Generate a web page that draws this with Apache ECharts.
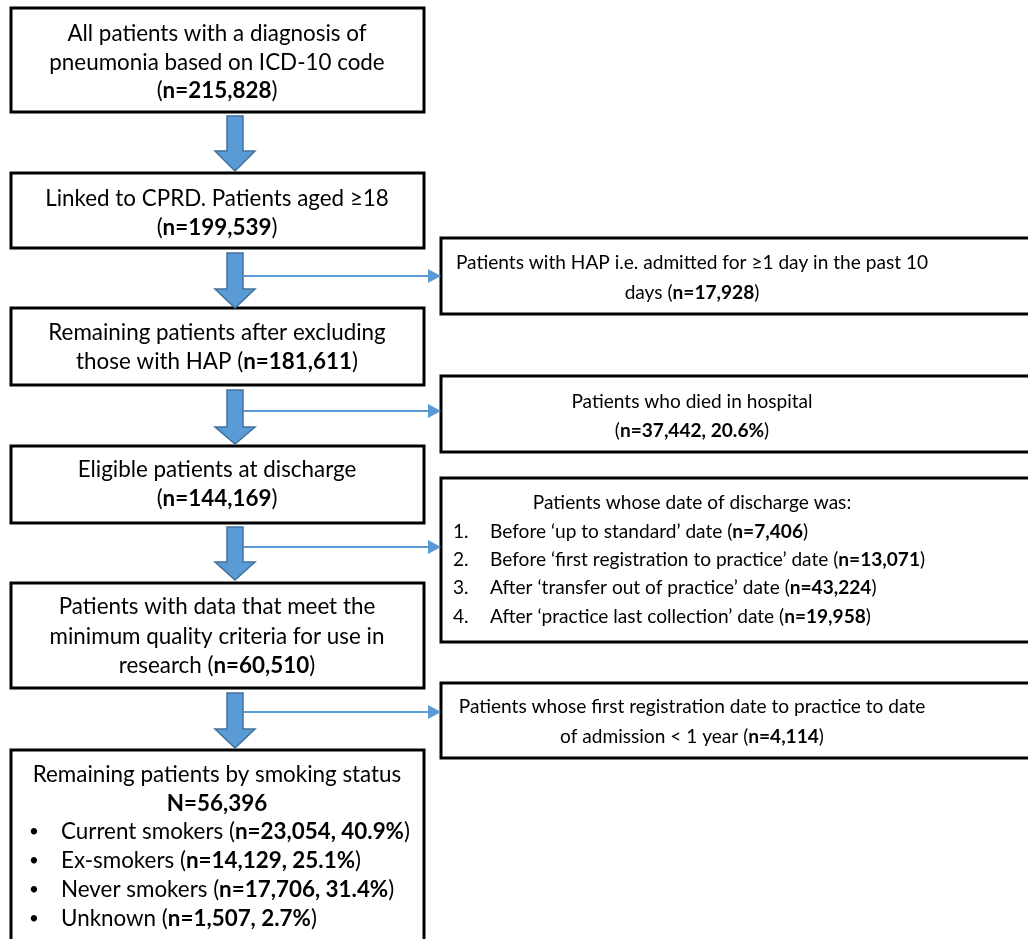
<!DOCTYPE html>
<html><head><meta charset="utf-8">
<script src="https://cdn.jsdelivr.net/npm/echarts@6/dist/echarts.min.js"></script>
<style>html,body{margin:0;padding:0;background:#fff;overflow:hidden}#chart{width:1028px;height:939px}</style>
</head><body><div id="chart"></div>
<script>
// ---------------- data ----------------
const stepLines = [
  ['All patients with a diagnosis of', 'pneumonia based on ICD-10 code', '(#)'],
  ['Linked to CPRD. Patients aged \u226518', '(#)'],
  ['Remaining patients after excluding', 'those with HAP (#)'],
  ['Eligible patients at discharge', '(#)'],
  ['Patients with data that meet the', 'minimum quality criteria for use in', 'research (#)']
];
const stepCounts = [215828, 199539, 181611, 144169, 60510];

const exclusionLines = [
  ['Patients with HAP i.e. admitted for \u22651 day in the past 10', 'days (#)'],
  ['Patients who died in hospital', '(#)'],
  ['Patients whose first registration date to practice to date', 'of admission < 1 year (#)']
];
const exclusionCounts = [17928, 37442, 4114];
const exclusionPct = [null, 20.6, null];

const dischargeHeader = 'Patients whose date of discharge was:';
const dischargeReasons = [
  'Before \u2018up to standard\u2019 date',
  'Before \u2018first registration to practice\u2019 date',
  'After \u2018transfer out of practice\u2019 date',
  'After \u2018practice last collection\u2019 date'
];
const dischargeCounts = [7406, 13071, 43224, 19958];

const smokingHeader = 'Remaining patients by smoking status';
const smokingTotal = 56396;
const smokingCategories = ['Current smokers', 'Ex-smokers', 'Never smokers', 'Unknown'];
const smokingCounts = [23054, 14129, 17706, 1507];
const smokingPct = [40.9, 25.1, 31.4, 2.7];

// ---------------- layout (positions in canvas units) ----------------
const mainX = [11, 424];
const mainY = [[8, 112], [173, 248], [308, 385], [446, 523], [583, 688], [750, 980]];
const sideX = [441, 1034];
const sideY = [[238, 314], [376, 452], [478, 642], [683, 758]];
const arrowCx = 235;
const arrowY = [[116, 151, 171], [253, 289, 308], [390, 427, 444], [527, 562, 580], [693, 729, 748]];
const connectorY = [276, 411, 547, 712];
const connectorX = [243, 441];
const mainCx = 217;
const sideCx = 692;
const mainLineY = [[34, 63, 91], [199, 228], [333, 362], [470, 499], [607, 637, 666]];
const sideLineY = [[263, 293], [402, 431], [707, 737]];
const dischargeLineY = [503, 532, 560, 588, 617];
const dischargeNumX = 453, dischargeTextX = 490;
const smokingLineY = [775, 804, 832, 861, 890, 919];
const bulletX = 29, bulletTextX = 61;

// ---------------- styles ----------------
const FONT = 'Lato, "Open Sans", sans-serif';
const FS_MAIN = 22.4;
const FS_SIDE = 19.1;
const FS_BULLET = 17;
const ARROW_FILL = '#5B9BD5';
const ARROW_STROKE = '#41719C';

const fmt = n => n.toLocaleString('en-US');
const boldCount = (count, pct) => '{b|n=' + fmt(count) + (pct != null ? ', ' + pct.toFixed(1) + '%' : '') + '}';

// Build text items
const textItems = [];
stepLines.forEach((lines, i) => {
  lines.forEach((ln, j) => {
    textItems.push({ x: mainCx, y: mainLineY[i][j], text: ln.replace('#', boldCount(stepCounts[i])), align: 'center', fs: FS_MAIN });
  });
});
exclusionLines.forEach((lines, i) => {
  lines.forEach((ln, j) => {
    textItems.push({ x: sideCx, y: sideLineY[i][j], text: ln.replace('#', boldCount(exclusionCounts[i], exclusionPct[i])), align: 'center', fs: FS_SIDE });
  });
});
textItems.push({ x: sideCx, y: dischargeLineY[0], text: dischargeHeader, align: 'center', fs: FS_SIDE });
dischargeReasons.forEach((r, i) => {
  textItems.push({ x: dischargeNumX, y: dischargeLineY[i + 1], text: (i + 1) + '.', align: 'left', fs: FS_SIDE });
  textItems.push({ x: dischargeTextX, y: dischargeLineY[i + 1], text: r + ' (' + boldCount(dischargeCounts[i]) + ')', align: 'left', fs: FS_SIDE });
});
textItems.push({ x: mainCx, y: smokingLineY[0], text: smokingHeader, align: 'center', fs: FS_MAIN });
textItems.push({ x: mainCx, y: smokingLineY[1], text: '{b|N=' + fmt(smokingTotal) + '}', align: 'center', fs: FS_MAIN });
smokingCategories.forEach((c, i) => {
  textItems.push({ x: bulletX, y: smokingLineY[i + 2], text: '\u2022', align: 'left', fs: FS_BULLET });
  textItems.push({ x: bulletTextX, y: smokingLineY[i + 2], text: c + ' (' + boldCount(smokingCounts[i], smokingPct[i]) + ')', align: 'left', fs: FS_MAIN });
});

const boxes = mainY.map(y => [mainX[0], y[0], mainX[1], y[1]])
  .concat(sideY.map(y => [sideX[0], y[0], sideX[1], y[1]]));

const chart = echarts.init(document.getElementById('chart'), null, { renderer: 'canvas' });
chart.setOption({
  backgroundColor: '#ffffff',
  animation: false,
  grid: { left: 0, right: 0, top: 0, bottom: 0 },
  xAxis: { type: 'value', min: 0, max: 1028, show: false },
  yAxis: { type: 'value', min: 0, max: 939, inverse: true, show: false },
  series: [
    {
      type: 'custom', clip: false, silent: true,
      data: boxes,
      renderItem: (params, api) => {
        const p1 = api.coord([api.value(0), api.value(1)]);
        const p2 = api.coord([api.value(2), api.value(3)]);
        return { type: 'rect', shape: { x: p1[0], y: p1[1], width: p2[0] - p1[0], height: p2[1] - p1[1] },
          style: { fill: '#fff', stroke: '#000', lineWidth: 3 } };
      }
    },
    {
      type: 'custom', clip: false, silent: true,
      data: arrowY.map(a => [arrowCx, a[0], a[1], a[2]]),
      renderItem: (params, api) => {
        const cx = api.value(0);
        const pts = [[cx - 8, api.value(1)], [cx + 8, api.value(1)], [cx + 8, api.value(2)], [cx + 20, api.value(2)],
          [cx, api.value(3)], [cx - 20, api.value(2)], [cx - 8, api.value(2)]].map(p => api.coord(p));
        return { type: 'polygon', shape: { points: pts }, style: { fill: ARROW_FILL, stroke: ARROW_STROKE, lineWidth: 1.5 } };
      }
    },
    {
      type: 'custom', clip: false, silent: true,
      data: connectorY.map(y => [connectorX[0], y, connectorX[1]]),
      renderItem: (params, api) => {
        const a = api.coord([api.value(0), api.value(1)]);
        const b = api.coord([api.value(2), api.value(1)]);
        return { type: 'group', children: [
          { type: 'line', shape: { x1: a[0], y1: a[1], x2: b[0] - 12, y2: b[1] }, style: { stroke: ARROW_FILL, lineWidth: 2 } },
          { type: 'polygon', shape: { points: [[b[0] - 13, b[1] - 7], [b[0], b[1]], [b[0] - 13, b[1] + 7]] }, style: { fill: ARROW_FILL } }
        ] };
      }
    },
    {
      type: 'custom', clip: false, silent: true,
      data: textItems.map((t, i) => [t.x, t.y, i]),
      renderItem: (params, api) => {
        const t = textItems[api.value(2)];
        const p = api.coord([api.value(0), api.value(1)]);
        return { type: 'text', x: p[0], y: p[1], style: {
          text: t.text, fill: '#000', font: t.fs + 'px ' + FONT, align: t.align, verticalAlign: 'middle',
          rich: { b: { font: 'bold ' + t.fs + 'px ' + FONT, fill: '#000' } }
        } };
      }
    }
  ]
});
</script></body></html>
